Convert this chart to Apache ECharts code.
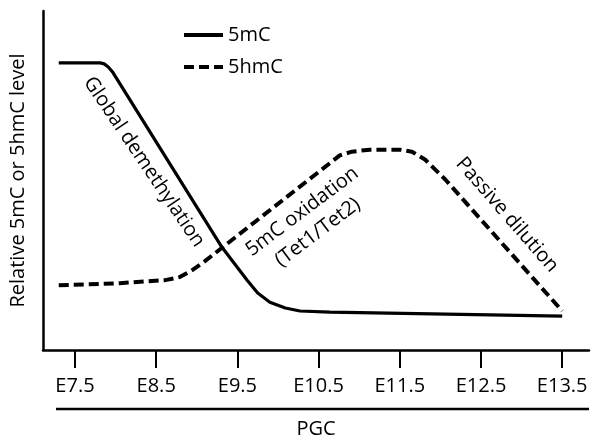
<!DOCTYPE html>
<html><head><meta charset="utf-8">
<script src="https://cdn.jsdelivr.net/npm/echarts@6/dist/echarts.min.js"></script>
<style>html,body{margin:0;padding:0;background:#fff}#c{width:600px;height:444px}</style>
</head><body><div id="c"></div>
<script>
const tickValues = [7.5, 8.5, 9.5, 10.5, 11.5, 12.5, 13.5];
const tickLabels = ['E7.5', 'E8.5', 'E9.5', 'E10.5', 'E11.5', 'E12.5', 'E13.5'];
const seriesNames = ['5mC', '5hmC'];
const mcX = [7.30, 7.81, 7.86, 7.91, 7.96, 9.31, 9.47, 9.62, 9.75, 9.90, 10.09, 10.27, 10.64, 13.50];
const mcY = [84.7, 84.7, 84.4, 83.5, 82.1, 30.3, 25.3, 20.6, 16.8, 14.1, 12.4, 11.5, 11.2, 10.0];
const hmcX = [7.30, 8.05, 8.61, 8.79, 8.94, 9.10, 10.76, 10.91, 11.13, 11.50, 11.65, 11.81, 12.06, 13.50];
const hmcY = [19.1, 19.7, 20.6, 21.5, 23.5, 26.2, 57.4, 58.5, 59.1, 59.1, 58.5, 56.2, 50.3, 11.5];
const annotations = [
  { text: 'Global demethylation', x: 144, y: 162, angle: -56 },
  { text: '5mC oxidation\n(Tet1/Tet2)', x: 310, y: 222, angle: 37 },
  { text: 'Passive dilution', x: 507, y: 215, angle: -49 }
];
const FONT = 'Open Sans';
const FS = 20;
const chart = echarts.init(document.getElementById('c'), null, { renderer: 'canvas' });
const pairs = (xs, ys) => xs.map((x, i) => [x, ys[i]]);
chart.setOption({
  animation: false,
  backgroundColor: '#fff',
  textStyle: { fontFamily: FONT, color: '#000' },
  grid: { left: 43, right: 11, top: 11, bottom: 93 },
  legend: {
    orient: 'vertical', left: 177, top: 20, itemWidth: 39, itemHeight: 14, itemGap: 12,
    data: seriesNames,
    itemStyle: { opacity: 0 },
    lineStyle: { width: 4 },
    textStyle: { fontFamily: FONT, fontSize: FS, color: '#000', padding: [0, 0, 0, 0] }
  },
  xAxis: {
    type: 'value', min: 7.106, max: 13.83,
    name: 'PGC', nameLocation: 'middle', nameGap: 69,
    nameTextStyle: { fontFamily: FONT, fontSize: FS, color: '#000' },
    axisLine: { show: true, lineStyle: { color: '#000', width: 2.5 } },
    axisTick: { show: true, customValues: tickValues, length: 18, lineStyle: { color: '#000', width: 2 } },
    axisLabel: { show: true, customValues: tickValues, margin: 26, fontFamily: FONT, fontSize: FS, color: '#000',
      formatter: v => tickLabels[tickValues.indexOf(v)] },
    splitLine: { show: false }
  },
  yAxis: {
    type: 'value', min: 0, max: 100,
    name: 'Relative 5mC or 5hmC level', nameLocation: 'middle', nameGap: 15, nameRotate: 90,
    nameTextStyle: { fontFamily: FONT, fontSize: FS, color: '#000' },
    axisLine: { show: true, lineStyle: { color: '#000', width: 2.5 } },
    axisTick: { show: false }, axisLabel: { show: false }, splitLine: { show: false }
  },
  series: [
    { name: seriesNames[0], type: 'line', data: pairs(mcX, mcY), symbol: 'none', smooth: false,
      lineStyle: { color: '#000', width: 3.2 }, itemStyle: { color: '#000' } },
    { name: seriesNames[1], type: 'line', data: pairs(hmcX, hmcY), symbol: 'none', smooth: false,
      lineStyle: { color: '#000', width: 4, type: [10, 5] }, itemStyle: { color: '#000' } }
  ],
  graphic: [
    { type: 'line', shape: { x1: 56, y1: 409, x2: 589, y2: 409 }, style: { stroke: '#000', lineWidth: 2.5 } }
  ].concat(annotations.map(a => ({
    type: 'text', x: a.x, y: a.y, rotation: a.angle * Math.PI / 180,
    style: { text: a.text, fill: '#000', font: FS + 'px "' + FONT + '"', align: 'center', verticalAlign: 'middle', lineHeight: 26 }
  })))
});
</script></body></html>
